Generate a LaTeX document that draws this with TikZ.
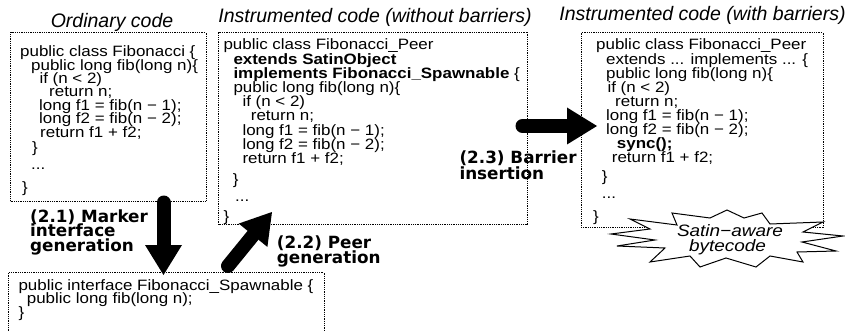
\documentclass[tikz,border=0pt]{standalone}
\usepackage{fontspec}
\setmainfont{Liberation Sans}
\newfontfamily\codef{Liberation Sans}[FakeStretch=1.13]
\newfontfamily\satinf{Liberation Sans}[FakeStretch=1.15]
\newfontfamily\lblf{DejaVu Sans}
\usetikzlibrary{arrows.meta,fit}
\begin{document}
\begin{tikzpicture}[x=1pt,y=-1pt,
  code/.style={anchor=base west, inner sep=0pt, font=\codef\fontsize{15}{15}\selectfont},
  ttl/.style={anchor=base, inner sep=0pt, font=\fontsize{19.5}{20}\selectfont\itshape},
  lbl/.style={anchor=base west, inner sep=0pt, font=\lblf\bfseries\fontsize{16.8}{17}\selectfont},
  codebox/.style={draw, line width=0.9pt, dash pattern=on 0.9pt off 0.9pt, inner sep=0pt},
  bigarrow/.style={line width=14pt, line cap=round, -{Triangle[length=30pt,width=37pt,line width=0pt]}},
  burst/.style={draw, fill=white, line width=1pt, line join=miter},
  satin/.style={anchor=base, inner sep=0pt, font=\satinf\itshape\fontsize{16.5}{17}\selectfont}]
\clip (0,0) rectangle (845,331);
\useasboundingbox (0,0) rectangle (845,331);

% titles
\node[ttl] (t1) at (112,27.5) {Ordinary code};
\node[ttl] (t2) at (375,22.7) {Instrumented code (without barriers)};
\node[ttl] (t3) at (702.5,20.7) {Instrumented code (with barriers)};

% boxes
\node[codebox, fit={(10.5,32.5) (206,201.5)}] (box1) {};
\node[codebox, fit={(218.5,32.5) (527,224.5)}] (box2) {};
\node[codebox, fit={(581,32.5) (823,227)}] (box3) {};
\node[codebox, fit={(8.5,272.5) (324,336)}] (box4) {};

% box 1
\node[code] (o1) at (20,56.7) {public class Fibonacci \{};
\node[code] (o2) at (31,70.1) {public long fib(long n)\{};
\node[code] (o3) at (39.3,83.5) {if (n < 2)};
\node[code] (o4) at (49,96.9) {return n;};
\node[code] (o5) at (39,110.3) {long f1 = fib(n − 1);};
\node[code] (o6) at (39,123.7) {long f2 = fib(n − 2);};
\node[code] (o7) at (40,137.1) {return f1 + f2;};
\node[code] (o8) at (32,153) {\}};
\node[code] (o9) at (31,170) {...};
\node[code] (o10) at (22,193) {\}};

% box 2
\node[code] (p1) at (223.3,50) {public class Fibonacci\_Peer};
\node[code] (p2) at (233.3,64.2) {\bfseries extends SatinObject};
\node[code] (p3) at (233.3,78.4) {\textbf{implements Fibonacci\_Spawnable} \{};
\node[code] (p4) at (233.3,92.6) {public long fib(long n)\{};
\node[code] (p5) at (242.3,106.8) {if (n < 2)};
\node[code] (p6) at (250.7,121) {return n;};
\node[code] (p7) at (242.3,135.2) {long f1 = fib(n − 1);};
\node[code] (p8) at (242.3,149.4) {long f2 = fib(n − 2);};
\node[code] (p9) at (242.3,163.6) {return f1 + f2;};
\node[code] (p10) at (232.7,184) {\}};
\node[code] (p11) at (235,201) {...};
\node[code] (p12) at (223.3,221) {\}};

% box 3
\node[code] (q1) at (596,50) {public class Fibonacci\_Peer};
\node[code] (q2) at (606,64.1) {extends ... implements ... \{};
\node[code] (q3) at (606,78.2) {public long fib(long n)\{};
\node[code] (q4) at (607.3,92.3) {if (n < 2)};
\node[code] (q5) at (615,106.4) {return n;};
\node[code] (q6) at (606,120.5) {long f1 = fib(n − 1);};
\node[code] (q7) at (606,134.6) {long f2 = fib(n − 2);};
\node[code] (q8) at (616.7,148.7) {\bfseries sync();};
\node[code] (q9) at (611.7,162.8) {return f1 + f2;};
\node[code] (q10) at (601.7,182) {\}};
\node[code] (q11) at (601.7,198) {...};
\node[code] (q12) at (593,221) {\}};

% box 4
\node[code] (r1) at (18.3,290) {public interface Fibonacci\_Spawnable \{};
\node[code] (r2) at (26.7,303.3) {public long fib(long n);};
\node[code] (r3) at (18.3,317) {\}};

% arrows
\coordinate (a1s) at (163.5,202.5);
\coordinate (a1e) at (163.5,275);
\coordinate (a2s) at (228,266);
\coordinate (a2e) at (272,212);
\coordinate (a3s) at (522.5,126);
\coordinate (a3e) at (597,126);
\draw[bigarrow] (a1s) -- (a1e);
\draw[bigarrow] (a2s) -- (a2e);
\draw[bigarrow] (a3s) -- (a3e);

% labels
\node[lbl] (l1a) at (30,222.3) {(2.1) Marker};
\node[lbl] (l1b) at (30,236.8) {interface};
\node[lbl] (l1c) at (30,251.3) {generation};
\node[lbl] (l2a) at (276.7,248.5) {(2.2) Peer};
\node[lbl] (l2b) at (276.7,263.5) {generation};
\node[lbl] (l3a) at (459.3,163.3) {(2.3) Barrier};
\node[lbl] (l3b) at (459.3,179) {insertion};

% starburst
\draw[burst] (672,213) -- (710,218) -- (727,210) -- (744,218) -- (762,213)
  -- (770,224) -- (823,222) -- (803,232) -- (843,236) -- (802,242)
  -- (836,251) -- (797,252) -- (803,262) -- (770,256) -- (756,267)
  -- (726,258) -- (700,267) -- (690,256) -- (650,262) -- (665,248)
  -- (617,246) -- (655,240) -- (611,234) -- (650,229) -- (630,219)
  -- (677,225) -- cycle;
\node[satin] (s1) at (730,236.7) {Satin−aware};
\node[satin] (s2) at (727.5,251.7) {bytecode};
\end{tikzpicture}
\end{document}
